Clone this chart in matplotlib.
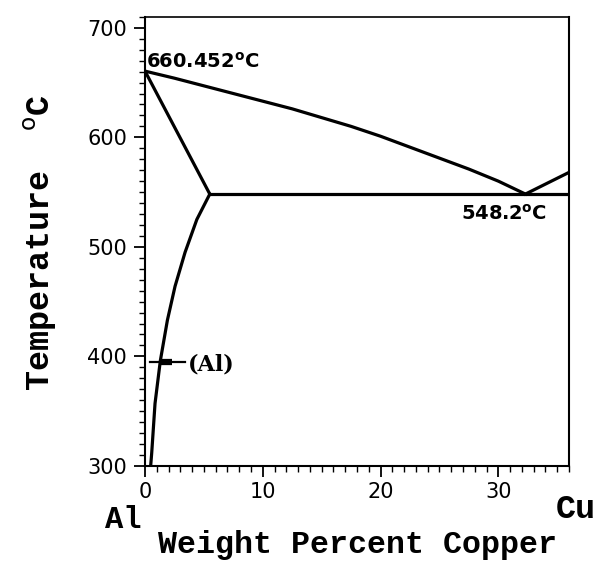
"""
Diagrama de fases Al-Cu (lado rico en aluminio)
"""
import matplotlib.pyplot as plt
from matplotlib.ticker import MultipleLocator

plt.rcParams['mathtext.fontset'] = 'custom'
plt.rcParams['mathtext.rm'] = 'DejaVu Sans'
plt.rcParams['mathtext.bf'] = 'DejaVu Sans:bold'

# Datos (peso % Cu, temperatura C)
liquidus_cu = [0, 2.5, 5, 7.5, 10, 12.5, 15, 17.5, 20, 22.5, 25, 27.5, 30, 32.3]
liquidus_t = [660.452, 654, 647, 640, 633, 626, 618, 610, 601, 591, 581, 571, 560, 548.2]

solidus_cu = [0, 5.5]
solidus_t = [660.452, 548.2]

solvus_cu = [5.5, 4.4, 3.4, 2.55, 1.9, 1.3, 0.85, 0.57, 0.48]
solvus_t = [548.2, 525, 495, 464, 433, 396, 357, 312, 300]

eutectic_cu = [5.5, 36]
eutectic_t = [548.2, 548.2]

theta_cu = [32.3, 36]
theta_t = [548.2, 568]

x_ticks = [0, 10, 20, 30]
y_ticks = [300, 400, 500, 600, 700]

fig = plt.figure(figsize=(5.98, 5.62), dpi=100)
ax = fig.add_axes([0.2425, 0.171, 0.709, 0.799])

lw = 2.3
ax.plot(liquidus_cu, liquidus_t, 'k-', lw=lw)
ax.plot(solidus_cu, solidus_t, 'k-', lw=lw)
ax.plot(solvus_cu, solvus_t, 'k-', lw=lw)
ax.plot(eutectic_cu, eutectic_t, 'k-', lw=lw)
ax.plot(theta_cu, theta_t, 'k-', lw=lw)

# marca de la fase (Al)
ax.plot([0.4, 3.4], [395, 395], 'k-', lw=1.6)
ax.plot([1.3, 2.3], [395, 395], 'k-', lw=4.5, solid_capstyle='butt')
ax.text(3.6, 393, '(Al)', fontsize=16, fontweight='bold', family='DejaVu Serif',
        va='center', ha='left')

# etiquetas de temperatura
ax.text(0.1, 664, '660.452$^{\\mathbf{o}}$C', fontsize=14, fontweight='bold',
        va='baseline', ha='left')
ax.text(30.5, 530, '548.2$^{\\mathbf{o}}$C', fontsize=14, fontweight='bold',
        va='center', ha='center')

ax.set_xlim(0, 36)
ax.set_ylim(300, 710)
ax.set_xticks(x_ticks)
ax.set_yticks(y_ticks)
ax.xaxis.set_minor_locator(MultipleLocator(1))
ax.yaxis.set_minor_locator(MultipleLocator(10))
ax.tick_params(which='major', direction='out', length=8, width=1.3, labelsize=15)
ax.tick_params(axis='y', which='major', pad=5)
ax.tick_params(which='minor', direction='out', length=4, width=1)
for s in ax.spines.values():
    s.set_linewidth(1.5)
ax.spines['top'].set_linewidth(1.2)

mono = 'Liberation Mono'
fig.text(0.067, 0.569, 'Temperature  $^{\\mathrm{o}}$C', family=mono, fontsize=24,
         fontweight='bold', rotation=90, ha='center', va='center')
fig.text(0.597, 0.030, 'Weight Percent Copper', family=mono, fontweight='bold',
         fontsize=22.8, ha='center', va='center')
fig.text(0.206, 0.075, 'Al', family=mono, fontsize=22, fontweight='bold',
         ha='center', va='center')
fig.text(0.962, 0.094, 'Cu', family=mono, fontsize=24, fontweight='bold',
         ha='center', va='center')

plt.savefig('out.png', dpi=100)
